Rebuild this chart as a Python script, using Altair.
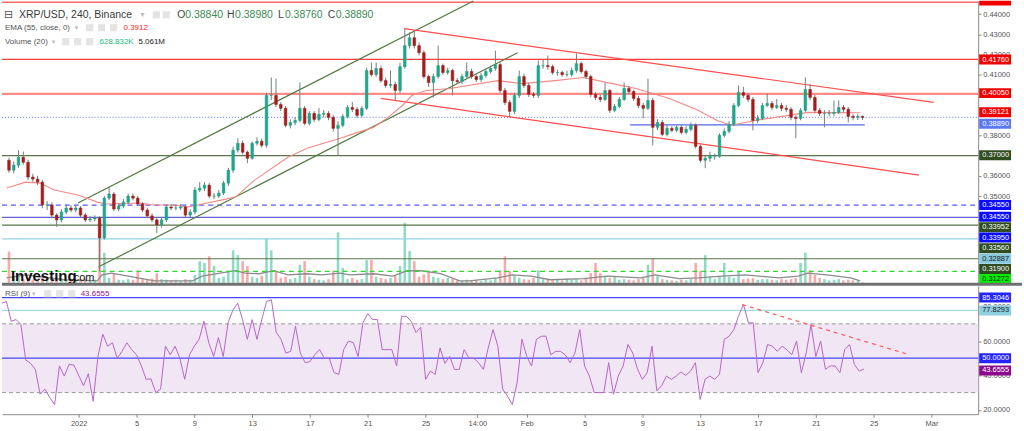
import altair as alt
import pandas as pd

FONT = "Liberation Sans"

# ---------------- data ----------------
START = "2021-12-26 16:00"          # open time of the first 8h candle (UTC)
first_open = 0.3677
close = [0.3628, 0.3653, 0.3692, 0.3667, 0.3594, 0.3584, 0.3569, 0.3456, 0.3456, 0.3406,
         0.3382, 0.3421, 0.3441, 0.3431, 0.3441, 0.3406, 0.3382, 0.3387, 0.3392, 0.3293,
         0.3490, 0.3510, 0.3436, 0.3451, 0.3470, 0.3500, 0.3490, 0.3461, 0.3431, 0.3402,
         0.3382, 0.3357, 0.3382, 0.3446, 0.3441, 0.3441, 0.3446, 0.3406, 0.3421, 0.3530,
         0.3539, 0.3554, 0.3500, 0.3500, 0.3515, 0.3564, 0.3628, 0.3727, 0.3761, 0.3717,
         0.3687, 0.3761, 0.3771, 0.3751, 0.3998, 0.3998, 0.3953, 0.3934, 0.3850, 0.3864,
         0.3874, 0.3934, 0.3860, 0.3909, 0.3879, 0.3904, 0.3909, 0.3889, 0.3835, 0.3850,
         0.3894, 0.3938, 0.3929, 0.3899, 0.3934, 0.4121, 0.4101, 0.4131, 0.4071, 0.4047,
         0.4052, 0.4022, 0.4140, 0.4244, 0.4283, 0.4244, 0.4209, 0.4091, 0.4061, 0.4091,
         0.4145, 0.4111, 0.4121, 0.4071, 0.4066, 0.4091, 0.4116, 0.4091, 0.4076, 0.4096,
         0.4116, 0.4131, 0.4150, 0.4022, 0.3963, 0.3919, 0.3998, 0.4091, 0.4047, 0.4003,
         0.3998, 0.4145, 0.4145, 0.4140, 0.4111, 0.4111, 0.4101, 0.4101, 0.4121, 0.4155,
         0.4116, 0.4091, 0.4003, 0.3988, 0.3978, 0.4022, 0.3924, 0.3943, 0.3978, 0.4032,
         0.4017, 0.3983, 0.3948, 0.3934, 0.3973, 0.3840, 0.3864, 0.3805, 0.3835, 0.3825,
         0.3840, 0.3815, 0.3830, 0.3850, 0.3746, 0.3677, 0.3687, 0.3697, 0.3697, 0.3800,
         0.3820, 0.3855, 0.3948, 0.4012, 0.3998, 0.3978, 0.3874, 0.3884, 0.3948, 0.3958,
         0.3938, 0.3948, 0.3934, 0.3929, 0.3889, 0.3884, 0.3924, 0.4027, 0.3988, 0.3924,
         0.3909, 0.3909, 0.3909, 0.3914, 0.3938, 0.3929, 0.3894, 0.3889, 0.3894, 0.3889]
high = [0.3690, 0.3670, 0.3727, 0.3720, 0.3680, 0.3610, 0.3600, 0.3580, 0.3475, 0.3470,
        0.3415, 0.3435, 0.3460, 0.3455, 0.3455, 0.3450, 0.3415, 0.3400, 0.3405, 0.3400,
        0.3500, 0.3545, 0.3520, 0.3465, 0.3485, 0.3512, 0.3512, 0.3500, 0.3470, 0.3440,
        0.3415, 0.3395, 0.3395, 0.3458, 0.3460, 0.3455, 0.3460, 0.3455, 0.3435, 0.3545,
        0.3569, 0.3569, 0.3565, 0.3515, 0.3530, 0.3575, 0.3640, 0.3745, 0.3786, 0.3775,
        0.3725, 0.3770, 0.3790, 0.3785, 0.4010, 0.4086, 0.4081, 0.3965, 0.3945, 0.3880,
        0.3890, 0.4062, 0.3945, 0.3920, 0.3920, 0.3935, 0.3925, 0.3920, 0.3900, 0.3870,
        0.3905, 0.3950, 0.3965, 0.3940, 0.3945, 0.4135, 0.4160, 0.4160, 0.4145, 0.4085,
        0.4121, 0.4065, 0.4160, 0.4328, 0.4310, 0.4318, 0.4260, 0.4220, 0.4100, 0.4105,
        0.4244, 0.4155, 0.4135, 0.4130, 0.4085, 0.4105, 0.4160, 0.4130, 0.4100, 0.4110,
        0.4130, 0.4145, 0.4219, 0.4160, 0.4035, 0.3975, 0.4010, 0.4121, 0.4105, 0.4060,
        0.4015, 0.4170, 0.4175, 0.4195, 0.4150, 0.4125, 0.4120, 0.4120, 0.4135, 0.4205,
        0.4165, 0.4125, 0.4100, 0.4015, 0.4000, 0.4062, 0.4030, 0.3955, 0.3990, 0.4062,
        0.4045, 0.4025, 0.3995, 0.3960, 0.4081, 0.3985, 0.3880, 0.3875, 0.3850, 0.3845,
        0.3850, 0.3850, 0.3845, 0.3865, 0.3860, 0.3755, 0.3700, 0.3720, 0.3710, 0.3810,
        0.3835, 0.3870, 0.3960, 0.4047, 0.4040, 0.4010, 0.3990, 0.3900, 0.3960, 0.4007,
        0.3970, 0.3980, 0.3960, 0.3950, 0.3940, 0.3900, 0.3935, 0.4086, 0.4055, 0.4000,
        0.3935, 0.3925, 0.3925, 0.3973, 0.3973, 0.3950, 0.3940, 0.3905, 0.3905, 0.3898]
low = [0.3615, 0.3612, 0.3640, 0.3655, 0.3580, 0.3570, 0.3555, 0.3440, 0.3431, 0.3390,
       0.3348, 0.3370, 0.3410, 0.3420, 0.3420, 0.3395, 0.3372, 0.3372, 0.3375, 0.3127,
       0.3285, 0.3480, 0.3425, 0.3425, 0.3440, 0.3460, 0.3478, 0.3450, 0.3420, 0.3390,
       0.3370, 0.3318, 0.3345, 0.3372, 0.3430, 0.3430, 0.3430, 0.3395, 0.3395, 0.3410,
       0.3520, 0.3525, 0.3490, 0.3485, 0.3490, 0.3505, 0.3550, 0.3615, 0.3715, 0.3705,
       0.3663, 0.3680, 0.3750, 0.3740, 0.3740, 0.3975, 0.3940, 0.3920, 0.3840, 0.3835,
       0.3850, 0.3865, 0.3850, 0.3850, 0.3865, 0.3870, 0.3890, 0.3875, 0.3820, 0.3702,
       0.3840, 0.3885, 0.3915, 0.3885, 0.3890, 0.3925, 0.4090, 0.4090, 0.4060, 0.4035,
       0.4035, 0.3973, 0.4010, 0.4130, 0.4230, 0.4230, 0.4195, 0.4080, 0.4040, 0.3988,
       0.4080, 0.4100, 0.4100, 0.3998, 0.4055, 0.4055, 0.4080, 0.4080, 0.4065, 0.4065,
       0.4085, 0.4105, 0.4120, 0.4010, 0.3950, 0.3889, 0.3905, 0.3985, 0.4035, 0.3990,
       0.3985, 0.3985, 0.4130, 0.4125, 0.4100, 0.4095, 0.4090, 0.4090, 0.4090, 0.4110,
       0.4105, 0.4080, 0.3990, 0.3975, 0.3965, 0.3970, 0.3910, 0.3915, 0.3935, 0.3970,
       0.4005, 0.3970, 0.3935, 0.3884, 0.3925, 0.3751, 0.3825, 0.3795, 0.3795, 0.3815,
       0.3815, 0.3805, 0.3805, 0.3820, 0.3735, 0.3665, 0.3638, 0.3670, 0.3680, 0.3690,
       0.3790, 0.3810, 0.3845, 0.3940, 0.3985, 0.3965, 0.3825, 0.3860, 0.3875, 0.3940,
       0.3925, 0.3930, 0.3920, 0.3915, 0.3875, 0.3786, 0.3875, 0.3915, 0.3975, 0.3910,
       0.3895, 0.3840, 0.3895, 0.3895, 0.3905, 0.3915, 0.3864, 0.3875, 0.3876, 0.3876]
volume_m = [52, 10, 13, 6, 8, 5, 6, 13, 10, 6,
            8, 5, 4, 5, 3, 6, 8, 4, 5, 80,
            50, 8, 16, 5, 4, 6, 5, 20, 6, 5,
            7, 16, 6, 5, 4, 5, 3, 6, 5, 13,
            36, 33, 44, 28, 8, 10, 20, 54, 46, 36,
            28, 10, 8, 12, 74, 54, 20, 8, 10, 6,
            8, 30, 36, 10, 6, 5, 4, 6, 20, 84,
            25, 6, 8, 5, 6, 38, 38, 10, 8, 6,
            8, 12, 28, 100, 53, 36, 10, 14, 20, 10,
            8, 6, 8, 6, 4, 3, 5, 3, 4, 3,
            5, 4, 8, 21, 44, 20, 12, 8, 6, 5,
            8, 21, 6, 5, 4, 6, 4, 7, 5, 6,
            4, 8, 16, 33, 16, 10, 8, 10, 5, 6,
            5, 4, 6, 8, 30, 41, 12, 6, 5, 4,
            3, 5, 4, 6, 33, 20, 46, 10, 6, 10,
            33, 10, 8, 20, 6, 7, 8, 5, 6, 6,
            5, 4, 6, 5, 6, 8, 33, 50, 21, 13,
            8, 6, 4, 5, 6, 4, 5, 4, 3, 1]
rsi = [82, 83, 71.5, 72.5, 69.6, 49, 47, 43.5, 29, 32,
       27, 23, 45.5, 39.6, 46.4, 46, 40, 34, 41, 25,
       51, 64, 57, 59, 50, 54, 59, 55, 52, 45.5,
       37.7, 38, 30, 32, 57, 52, 57, 50, 37.7, 52,
       57, 61, 71.5, 59, 51, 62, 51, 70.6, 78, 82,
       72.5, 61, 72.5, 61, 72.5, 83, 84, 65, 61, 53,
       54, 68.6, 53, 47.4, 48, 52, 55, 50, 50, 41.6,
       40.6, 55, 60, 59, 51, 70.6, 76, 72.5, 72.5, 55,
       55, 55, 45.5, 74.4, 74.4, 71.5, 65, 68, 37.7, 42.5,
       40.6, 56, 47, 51, 43.5, 43.5, 55, 50, 50, 47.4,
       43.5, 56, 66.7, 57, 32, 28, 23, 35.8, 61, 51,
       45.5, 61, 62.8, 62.8, 52, 54, 54, 52, 47.4, 53,
       66.7, 45.5, 39.6, 30, 30, 30, 47.4, 29, 39.6, 45.5,
       58, 53, 43.5, 37.7, 41.6, 57, 31, 34, 39.6, 37.7,
       39.6, 42, 40, 42.5, 47.4, 26, 37.7, 39.6, 37.7, 40.6,
       61, 62.8, 66.7, 75, 81.2, 70.6, 70.6, 41.6, 47.4, 58,
       57, 54, 57, 55, 52, 60, 41.6, 53, 69.6, 51,
       60, 43.5, 45.5, 45.5, 41.6, 55, 58, 46.4, 42.5, 43.66]
ema_idx = [0, 4, 7, 10, 15, 19, 21, 28, 31, 35, 38, 41, 45, 48, 52, 59, 63, 70, 73, 77,
           80, 83, 85, 88, 93, 103, 108, 115, 121, 126, 132, 139, 145, 149, 152, 157, 164, 168, 179]
ema_val = [0.3540, 0.3569, 0.3564, 0.3530, 0.3505, 0.3470, 0.3461, 0.3466, 0.3456, 0.3456,
           0.3446, 0.3461, 0.3480, 0.3495, 0.3579, 0.3692, 0.3737, 0.3786, 0.3810, 0.3840,
           0.3889, 0.3948, 0.3998, 0.4022, 0.4032, 0.4071, 0.4056, 0.4071, 0.4086, 0.4061,
           0.4032, 0.3983, 0.3924, 0.3874, 0.3850, 0.3874, 0.3899, 0.3914, 0.3912]
vma_idx = [0, 4, 12, 19, 20, 22, 31, 39, 41, 48, 50, 53, 56, 59, 63, 66, 70, 72, 77, 81, 84,
           87, 91, 95, 97, 103, 106, 110, 114, 121, 126, 133, 136, 141, 145, 150, 155, 162,
           166, 168, 172, 177, 179]
vma_val = [8, 13, 5, 3, 13, 16, 3, 3, 11, 20, 16, 15, 20, 13, 15, 13, 16, 13, 15, 11, 20,
           20, 15, 3, 3, 8, 13, 11, 5, 7, 11, 8, 13, 7, 8, 11, 13, 8, 11, 16, 13, 8, 3]

# horizontal price levels
solid_levels = [0.4176, 0.4005, 0.44587, 0.37, 0.3395, 0.3356, 0.32887, 0.319]
solid_colors = ["#ff3b3b", "#ff8a8a", "#ff6a6a", "#5a7549", "#6262d6", "#5a7549", "#93d3e2", "#5a7549"]
solid_widths = [1.2, 2.2, 1.5, 1.2, 1.2, 1.2, 1.2, 1.2]
dashed_levels = [0.3455, 0.31272]
dashed_colors = ["#5b5bff", "#33d633"]
dotted_levels = [0.3889]
dotted_colors = ["#7d90f0"]

# drawn trend lines
trend_id = ["g_low", "g_low", "g_up", "g_up", "r_up", "r_up", "r_low", "r_low", "b_h", "b_h"]
trend_t = ["2022-01-02 02:30", "2022-01-31 09:20", "2021-12-31 15:45", "2022-01-28 07:00",
           "2022-01-23 11:15", "2022-03-01 11:30", "2022-01-21 19:30", "2022-02-28 10:35",
           "2022-02-08 06:00", "2022-02-24 15:40"]
trend_p = [0.3150, 0.4209, 0.3466, 0.4465, 0.4328, 0.3963, 0.3983, 0.3604, 0.3852, 0.3852]
trend_col = {"g_low": "#52793f", "g_up": "#52793f", "r_up": "#ff4d4d", "r_low": "#ff4d4d", "b_h": "#5368ee"}

# price scale tags
tag_text = ["0.41760", "0.40050", "0.39121", "0.38890", "0.37000", "0.34550", "0.34550",
            "0.33952", "0.33950", "0.33560", "0.32887", "0.31900", "0.31272"]
tag_at = [0.4175, 0.4009, 0.3915, 0.3858, 0.3702, 0.3456, 0.3398, 0.3346, 0.3295, 0.3242,
          0.3190, 0.3139, 0.3090]
tag_bg = ["#f20000", "#f20000", "#f20000", "#5a78ef", "#2f4d20", "#0a0aff", "#0a0aff",
          "#2f4d20", "#0a0aff", "#2f4d20", "#86c8dc", "#2f4d20", "#00f000"]
tag_fg = ["white"] * 10 + ["#1c1c1c", "white", "#1c1c1c"]
price_ticks = [0.35, 0.36, 0.38, 0.41, 0.42, 0.43, 0.44]

# RSI pane
rsi_levels = [85.3046, 77.8293, 50.0]
rsi_level_colors = ["#4646ff", "#a6dbe7", "#4646ff"]
rsi_trend_t = ["2022-02-15 21:40", "2022-02-27 09:50"]
rsi_trend_v = [81.2, 52.2]
rsi_tag_text = ["85.3046", "77.8293", "50.0000", "43.6555"]
rsi_tag_at = [85.3, 77.83, 50.0, 42.9]
rsi_tag_bg = ["#2424ff", "#8ccfe0", "#2424ff", "#8b0a8b"]
rsi_tag_fg = ["white", "#1c1c1c", "white", "white"]
rsi_ticks = [20, 40, 60, 80]

tick_dates = ["2022-01-01 00:00", "2022-01-05 00:00", "2022-01-09 00:00", "2022-01-13 00:00",
              "2022-01-17 00:00", "2022-01-21 00:00", "2022-01-25 00:00", "2022-01-28 14:00",
              "2022-02-01 00:00", "2022-02-05 00:00", "2022-02-09 00:00", "2022-02-13 00:00",
              "2022-02-17 00:00", "2022-02-21 00:00", "2022-02-25 00:00", "2022-03-01 00:00"]
x_domain = ["2021-12-26 16:38", "2022-03-04 05:35"]

assert len(close) == len(high) == len(low) == len(volume_m) == len(rsi) == 180
assert len(ema_idx) == len(ema_val) and len(vma_idx) == len(vma_val)


# ---------------- helpers ----------------
def ms(s):
    return int(pd.Timestamp(s, tz="UTC").value // 1_000_000)


t0 = pd.Timestamp(START, tz="UTC")


def idx_ms(j, extra_h=0):
    return int((t0 + pd.Timedelta(hours=8 * j + extra_h)).value // 1_000_000)


n = len(close)
opens = [first_open] + close[:-1]
UP, DOWN = "#1fa58a", "#a51c1c"
cdf = pd.DataFrame({
    "t": [idx_ms(j, 4) for j in range(n)],
    "open": opens, "close": close, "high": high, "low": low,
    "vol": volume_m,
    "c": [UP if c >= o else DOWN for o, c in zip(opens, close)],
    "vc": ["#8fdcc4" if c >= o else "#f7aaa8" for o, c in zip(opens, close)],
})
ema_df = pd.DataFrame({"t": [idx_ms(j) for j in ema_idx], "v": ema_val})
vma_df = pd.DataFrame({"t": [idx_ms(j) for j in vma_idx], "v": vma_val})
rsi_df = pd.DataFrame({"t": [idx_ms(j) for j in range(n)], "v": rsi})

XS = alt.Scale(type="utc", domain=[ms(x_domain[0]), ms(x_domain[1])], nice=False)
PY = alt.Scale(domain=[0.30714, 0.44655], nice=False, zero=False)
RY = alt.Scale(domain=[17.4, 92.2], nice=False, zero=False)
VY = alt.Scale(domain=[0, 470], nice=False, zero=True)

AX_STYLE = dict(orient="right", title=None, grid=False, labelFont=FONT, labelFontSize=7.5,
                labelColor="#555555", tickColor="#8a8a8a", tickSize=3, domainColor="#8a8a8a",
                labelPadding=1.5, labelOverlap=False, labelFlush=False)
PAXIS = alt.Axis(values=price_ticks, format=".5f", **AX_STYLE)
RAXIS = alt.Axis(values=rsi_ticks, format=".4f", **AX_STYLE)
label_expr = ("utchours(datum.value) == 14 ? '14:00' : utcdate(datum.value) == 1 ? "
              "(utcmonth(datum.value) == 0 ? '2022' : utcmonth(datum.value) == 1 ? 'Feb' : 'Mar')"
              " : '' + utcdate(datum.value)")
XAXIS = alt.Axis(values=[ms(d) for d in tick_dates], labelExpr=label_expr, title=None, grid=False,
                 labelFont=FONT, labelFontSize=7.5, labelColor="#555555", tickColor="#8a8a8a",
                 tickSize=3, domainColor="#8a8a8a", labelPadding=2, labelOverlap=False,
                 labelFlush=False)

X_top = alt.X("t:T", scale=XS, axis=None)
X_bot = alt.X("t:T", scale=XS, axis=XAXIS)

DUMMY = pd.DataFrame({"d": [0]})
BOX = "M-1,-0.3125H1V0.3125H-1Z"


def txt(s, x, y, color="#333333", size=8, weight="normal", font=FONT):
    return alt.Chart(DUMMY).mark_text(text=s, align="left", baseline="middle", fontSize=size,
                                      fontWeight=weight, color=color, font=font).encode(
        x=alt.value(x), y=alt.value(y))


def icons(xs, y):
    return [alt.Chart(DUMMY).mark_square(size=52, color="#e4e4e4", opacity=1).encode(
        x=alt.value(x), y=alt.value(y)) for x in xs]


# ---------------- top pane: price + volume ----------------
lv_solid = alt.Chart(pd.DataFrame({"p": solid_levels, "c": solid_colors, "w": solid_widths})).mark_rule().encode(
    y=alt.Y("p:Q", scale=PY, axis=PAXIS), x=alt.value(0), x2=alt.value(980),
    color=alt.Color("c:N", scale=None), strokeWidth=alt.StrokeWidth("w:Q", scale=None))
lv_dash = alt.Chart(pd.DataFrame({"p": dashed_levels, "c": dashed_colors})).mark_rule(
    strokeDash=[5, 4], strokeWidth=1.3).encode(
    y=alt.Y("p:Q", scale=PY, axis=PAXIS), x=alt.value(0), x2=alt.value(980),
    color=alt.Color("c:N", scale=None))
lv_dot = alt.Chart(pd.DataFrame({"p": dotted_levels, "c": dotted_colors})).mark_rule(
    strokeDash=[1, 2], strokeWidth=1.2).encode(
    y=alt.Y("p:Q", scale=PY, axis=PAXIS), x=alt.value(0), x2=alt.value(980),
    color=alt.Color("c:N", scale=None))

tdf = pd.DataFrame({"id": trend_id, "t": [ms(s) for s in trend_t], "p": trend_p,
                    "c": [trend_col[i] for i in trend_id]})
trend = alt.Chart(tdf).mark_line(strokeWidth=1.2).encode(
    x=X_top, y=alt.Y("p:Q", scale=PY, axis=PAXIS), detail="id:N",
    color=alt.Color("c:N", scale=None))

ema = alt.Chart(ema_df).mark_line(color="#f28a86", strokeWidth=1.1, clip=True).encode(
    x=X_top, y=alt.Y("v:Q", scale=PY, axis=PAXIS))

wick = alt.Chart(cdf).mark_rule(color="#6f8276", strokeWidth=1).encode(
    x=X_top, y=alt.Y("low:Q", scale=PY, axis=PAXIS), y2="high:Q")
body = alt.Chart(cdf).mark_bar(width=2.6, strokeWidth=0.6).encode(
    x=X_top, y=alt.Y("open:Q", scale=PY, axis=PAXIS), y2="close:Q",
    color=alt.Color("c:N", scale=None), stroke=alt.Stroke("c:N", scale=None))

tagdf = pd.DataFrame({"s": tag_text, "at": tag_at, "bg": tag_bg, "fg": tag_fg})
tag_box = alt.Chart(tagdf).mark_point(shape=BOX, size=1024, filled=True, opacity=1, strokeWidth=0).encode(
    x=alt.value(997), y=alt.Y("at:Q", scale=PY, axis=PAXIS), color=alt.Color("bg:N", scale=None))
tag_txt = alt.Chart(tagdf).mark_text(align="left", baseline="middle", fontSize=7.5, font=FONT).encode(
    x=alt.value(984), y=alt.Y("at:Q", scale=PY, axis=PAXIS), text="s:N",
    color=alt.Color("fg:N", scale=None))
top_tag = alt.Chart(pd.DataFrame({"a": [0.44655], "b": [0.4443]})).mark_rect(color="#f20000").encode(
    x=alt.value(981), x2=alt.value(1013), y=alt.Y("a:Q", scale=PY, axis=PAXIS), y2="b:Q")

volbars = alt.Chart(cdf).mark_bar(width=2.6).encode(
    x=X_top, y=alt.Y("vol:Q", scale=VY, axis=None), color=alt.Color("vc:N", scale=None))
volma = alt.Chart(vma_df).mark_line(color="#8c8c8c", strokeWidth=1.3, clip=True).encode(
    x=X_top, y=alt.Y("v:Q", scale=VY, axis=None))

header = [
    txt("⊟", 2, 14, "#555555", 11, font="DejaVu Sans"),
    txt("XRP/USD, 240, Binance", 17, 14, "#3a3a3a", 10.5),
    txt("▾", 139, 14, "#bbbbbb", 8, font="DejaVu Sans"),
    txt("O", 176, 14, "#444444", 10.5), txt("0.38840", 184, 14, "#3d8a55", 10.5),
    txt("H", 226, 14, "#444444", 10.5), txt("0.38980", 234, 14, "#3d8a55", 10.5),
    txt("L", 277, 14, "#444444", 10.5), txt("0.38760", 284, 14, "#3d8a55", 10.5),
    txt("C", 327, 14, "#444444", 10.5), txt("0.38890", 335, 14, "#3d8a55", 10.5),
    txt("EMA (55, close, 0)", 3, 27, "#555555", 8),
    txt("▾", 73, 27, "#bbbbbb", 7, font="DejaVu Sans"),
    txt("0.3912", 122, 27, "#ff1a1a", 8),
    txt("Volume (20)", 3, 41, "#555555", 8),
    txt("▾", 50, 41, "#bbbbbb", 7, font="DejaVu Sans"),
    txt("628.832K", 98, 41, "#26c07f", 8),
    txt("5.061M", 137, 41, "#222222", 8),
    txt("Investing", 9, 276, "#111111", 15, "bold"),
    txt(".com", 69, 278, "#111111", 11),
] + icons([155, 165], 14) + icons([88, 100, 112], 27) + icons([64, 76, 88], 41)

separator = alt.Chart(DUMMY).mark_rule(color="#707070", strokeWidth=3).encode(
    x=alt.value(0), x2=alt.value(1024), y=alt.value(284.5))

price_layer = alt.layer(lv_solid, lv_dash, lv_dot, trend, ema, wick, body,
                        top_tag, tag_box, tag_txt, *header, separator)
vol_layer = alt.layer(volbars, volma)
top = alt.layer(vol_layer, price_layer).resolve_scale(y="independent").properties(
    width=980, height=283)

# ---------------- bottom pane: RSI ----------------
band = alt.Chart(pd.DataFrame({"a": [70], "b": [30]})).mark_rect(color="#f1e6f4").encode(
    x=alt.value(0), x2=alt.value(980), y=alt.Y("a:Q", scale=RY, axis=RAXIS), y2="b:Q")
band_lines = alt.Chart(pd.DataFrame({"v": [70, 30]})).mark_rule(
    color="#9a9a9a", strokeDash=[4, 3], strokeWidth=1).encode(
    x=alt.value(0), x2=alt.value(980), y=alt.Y("v:Q", scale=RY, axis=RAXIS))
rsi_lv = alt.Chart(pd.DataFrame({"v": rsi_levels, "c": rsi_level_colors})).mark_rule(strokeWidth=1.3).encode(
    x=alt.value(0), x2=alt.value(980), y=alt.Y("v:Q", scale=RY, axis=RAXIS),
    color=alt.Color("c:N", scale=None))
rsi_line = alt.Chart(rsi_df).mark_line(color="#b766c7", strokeWidth=1, clip=True).encode(
    x=X_bot, y=alt.Y("v:Q", scale=RY, axis=RAXIS))
rsi_tr = alt.Chart(pd.DataFrame({"t": [ms(s) for s in rsi_trend_t], "v": rsi_trend_v})).mark_line(
    color="#ff5a5a", strokeDash=[4, 4], strokeWidth=1.2).encode(
    x=X_bot, y=alt.Y("v:Q", scale=RY, axis=RAXIS))
rtdf = pd.DataFrame({"s": rsi_tag_text, "at": rsi_tag_at, "bg": rsi_tag_bg, "fg": rsi_tag_fg})
rsi_box = alt.Chart(rtdf).mark_point(shape=BOX, size=1024, filled=True, opacity=1, strokeWidth=0).encode(
    x=alt.value(997), y=alt.Y("at:Q", scale=RY, axis=RAXIS), color=alt.Color("bg:N", scale=None))
rsi_txt = alt.Chart(rtdf).mark_text(align="left", baseline="middle", fontSize=7.5, font=FONT).encode(
    x=alt.value(984), y=alt.Y("at:Q", scale=RY, axis=RAXIS), text="s:N",
    color=alt.Color("fg:N", scale=None))
rsi_head = [txt("RSI (9)", 3, 8, "#555555", 8),
            txt("▾", 30, 8, "#bbbbbb", 7, font="DejaVu Sans"),
            txt("43.6555", 79, 8, "#8b1a8b", 8)] + icons([46, 58, 70], 8)

bottom = alt.layer(band, band_lines, rsi_lv, rsi_line, rsi_tr, rsi_box, rsi_txt, *rsi_head).properties(
    width=980, height=129)

chart = alt.vconcat(top, bottom, spacing=3, bounds="flush").resolve_scale(
    x="independent", y="independent").properties(
    padding={"left": 0, "top": -3, "right": 0, "bottom": 0}, background="white").configure_view(stroke=None)

chart.save("out.html", embed_options={"renderer": "svg", "actions": False})
